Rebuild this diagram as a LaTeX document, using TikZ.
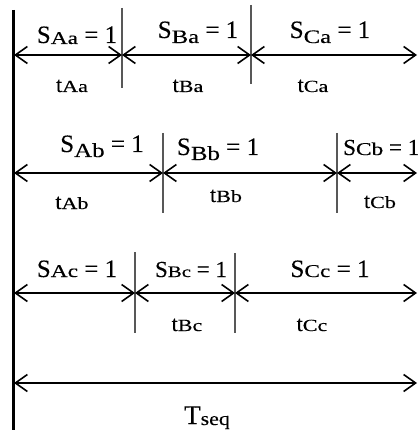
\documentclass[tikz,border=0pt]{standalone}
\usepackage{fontspec}
\usepackage{graphicx}
\setmainfont{Liberation Serif}[FakeBold=0.25]
\usetikzlibrary{arrows.meta}
% #1 main size, #2 sub size, #3 sub text, #4 raise, #5 xscale of sub
\newcommand{\Slab}[5]{{\fontsize{#1}{#1}\selectfont S\raisebox{#4}{\scalebox{#5}[1]{\fontsize{#2}{#2}\selectfont #3}} = 1}}
\newcommand{\tlab}[1]{{\fontsize{22}{22}\selectfont t\scalebox{1.3}[1]{\fontsize{17}{17}\selectfont #1}}}
\definecolor{tickgray}{HTML}{585858}
\begin{document}
\begin{tikzpicture}[x=1pt,y=-1pt,
  barb/.tip={Straight Barb[length=12pt,width=17pt,line width=1.6pt]},
  dim/.style={line width=1.8pt,black,{barb}-{barb}},
  tick/.style={line width=1.6pt,tickgray},
  axis/.style={line width=3pt,black},
  lbl/.style={inner sep=0pt,anchor=base}]
\useasboundingbox (0,0) rectangle (418,430);
\clip (0,0) rectangle (418,430);
% left axis
\coordinate (axtop) at (13,10);
\coordinate (axbot) at (13,432);
\draw[axis] (axtop) -- (axbot);
% row a
\coordinate (a0) at (14,55); \coordinate (a1) at (122,55); \coordinate (a2) at (251,55); \coordinate (a3) at (417,55);
\coordinate (ta1t) at (122,8); \coordinate (ta1b) at (122,88);
\coordinate (ta2t) at (251,5); \coordinate (ta2b) at (251,84);
\draw[tick] (ta1t) -- (ta1b);
\draw[tick] (ta2t) -- (ta2b);
\draw[dim] (a0) -- (a1);
\draw[dim] (a1) -- (a2);
\draw[dim] (a2) -- (a3);
\node[lbl] (SAa) at (77,43) {\Slab{25}{18}{Aa}{-1pt}{1.3}};
\node[lbl] (SBa) at (198,38) {\Slab{25}{19}{Ba}{-5pt}{1.3}};
\node[lbl] (SCa) at (330,38) {\Slab{25}{19}{Ca}{-5pt}{1.3}};
\node[lbl] (tAa) at (72,92) {\tlab{Aa}};
\node[lbl] (tBa) at (188,92) {\tlab{Ba}};
\node[lbl] (tCa) at (313,92) {\tlab{Ca}};
% row b
\coordinate (b0) at (14,173); \coordinate (b1) at (163,173); \coordinate (b2) at (337,173); \coordinate (b3) at (417,173);
\coordinate (tb1t) at (163,133); \coordinate (tb1b) at (163,213);
\coordinate (tb2t) at (337,133); \coordinate (tb2b) at (337,213);
\draw[tick] (tb1t) -- (tb1b);
\draw[tick] (tb2t) -- (tb2b);
\draw[dim] (b0) -- (b1);
\draw[dim] (b1) -- (b2);
\draw[dim] (b2) -- (b3);
\node[lbl] (SAb) at (102,152) {\Slab{25}{20}{Ab}{-5pt}{1.25}};
\node[lbl] (SBb) at (218,155) {\Slab{25}{20}{Bb}{-5pt}{1.25}};
\node[lbl,anchor=base west] (SCb) at (343,155) {\Slab{23}{18}{Cb}{0pt}{1.3}};
\node[lbl] (tAb) at (72,209) {\tlab{Ab}};
\node[lbl] (tBb) at (226,202) {\tlab{Bb}};
\node[lbl] (tCb) at (380,208) {\tlab{Cb}};
% row c
\coordinate (c0) at (14,293); \coordinate (c1) at (135,293); \coordinate (c2) at (235,293); \coordinate (c3) at (417,293);
\coordinate (tc1t) at (135,252); \coordinate (tc1b) at (135,333);
\coordinate (tc2t) at (235,253); \coordinate (tc2b) at (235,333);
\draw[tick] (tc1t) -- (tc1b);
\draw[tick] (tc2t) -- (tc2b);
\draw[dim] (c0) -- (c1);
\draw[dim] (c1) -- (c2);
\draw[dim] (c2) -- (c3);
\node[lbl] (SAc) at (77,277) {\Slab{25}{18}{Ac}{0pt}{1.3}};
\node[lbl] (SBc) at (191,277) {\Slab{23}{16}{Bc}{0pt}{1.3}};
\node[lbl] (SCc) at (330,277) {\Slab{25}{18}{Cc}{0pt}{1.3}};
\node[lbl] (tBc) at (187,331) {\tlab{Bc}};
\node[lbl] (tCc) at (312,331) {\tlab{Cc}};
% total
\coordinate (d0) at (14,383); \coordinate (d1) at (417,383);
\draw[dim] (d0) -- (d1);
\node[lbl] (Tseq) at (207,424) {{\fontsize{27}{27}\selectfont T\raisebox{-1pt}{\scalebox{1.15}[1]{\fontsize{19}{19}\selectfont seq}}}};
\end{tikzpicture}
\end{document}
